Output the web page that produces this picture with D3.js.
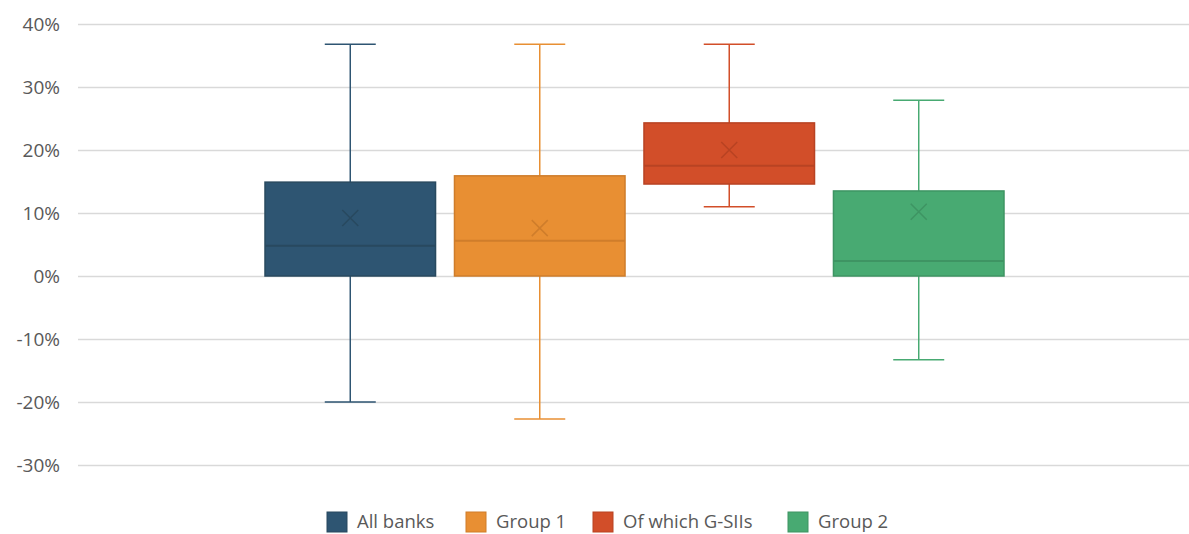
<!DOCTYPE html>
<html>
<head>
<meta charset="utf-8">
<script src="https://cdn.jsdelivr.net/npm/d3@7"></script>
<style>
  body { margin: 0; background: #fff; }
  svg { display: block; font-family: "Open Sans", sans-serif; }
</style>
</head>
<body>
<svg width="1189" height="534"></svg>
<script>
const series = ["All banks", "Group 1", "Of which G-SIIs", "Group 2"];
const colors = ["#2e5572", "#e88f33", "#d24e29", "#48aa72"];
const strokes = ["#28495f", "#cf7d2b", "#b84323", "#3e9463"];
const whiskerMin = [-0.20, -0.227, 0.110, -0.133];
const q1 = [0.0, 0.0, 0.146, 0.0];
const median = [0.048, 0.056, 0.175, 0.024];
const q3 = [0.149, 0.159, 0.243, 0.135];
const whiskerMax = [0.368, 0.368, 0.368, 0.279];
const mean = [0.092, 0.076, 0.200, 0.102];
const yTicks = [-0.3, -0.2, -0.1, 0, 0.1, 0.2, 0.3, 0.4];

const svg = d3.select("svg");
const width = +svg.attr("width");
const margin = { top: 24, right: 0, bottom: 69, left: 78 };
const plotBottom = 465;

const y = d3.scaleLinear().domain([-0.3, 0.4]).range([plotBottom, margin.top]);

// boxes sit in the middle of a single category
const x = d3.scaleBand()
  .domain(series)
  .range([265, 1004])
  .paddingInner(0.1);

const grid = svg.append("g");
grid.selectAll("line")
  .data(yTicks)
  .enter()
  .append("line")
  .attr("x1", margin.left)
  .attr("x2", width)
  .attr("y1", d => Math.round(y(d)) + 0.5)
  .attr("y2", d => Math.round(y(d)) + 0.5)
  .attr("stroke", "#d9d9d9")
  .attr("stroke-width", 1.5);

const pct = d => Math.round(d * 100) + "%";

svg.append("g")
  .selectAll("text")
  .data(yTicks)
  .enter()
  .append("text")
  .attr("x", 60)
  .attr("y", d => y(d))
  .attr("dy", "0.35em")
  .attr("text-anchor", "end")
  .attr("fill", "#595959")
  .attr("font-size", 19)
  .text(pct);

const data = series.map((s, i) => ({
  name: s, i,
  min: whiskerMin[i], q1: q1[i], med: median[i], q3: q3[i], max: whiskerMax[i], mean: mean[i]
}));

const bw = x.bandwidth();
const capW = 51;

const boxG = svg.append("g")
  .selectAll("g")
  .data(data)
  .enter()
  .append("g")
  .attr("transform", d => `translate(${x(d.name)},0)`);

// whiskers
boxG.append("line")
  .attr("x1", bw / 2).attr("x2", bw / 2)
  .attr("y1", d => y(d.max)).attr("y2", d => y(d.q3))
  .attr("stroke", d => colors[d.i]).attr("stroke-width", 1.5);
boxG.append("line")
  .attr("x1", bw / 2).attr("x2", bw / 2)
  .attr("y1", d => y(d.q1)).attr("y2", d => y(d.min))
  .attr("stroke", d => colors[d.i]).attr("stroke-width", 1.5);
boxG.append("line")
  .attr("x1", bw / 2 - capW / 2).attr("x2", bw / 2 + capW / 2)
  .attr("y1", d => y(d.max)).attr("y2", d => y(d.max))
  .attr("stroke", d => colors[d.i]).attr("stroke-width", 1.5);
boxG.append("line")
  .attr("x1", bw / 2 - capW / 2).attr("x2", bw / 2 + capW / 2)
  .attr("y1", d => y(d.min)).attr("y2", d => y(d.min))
  .attr("stroke", d => colors[d.i]).attr("stroke-width", 1.5);

// box
boxG.append("rect")
  .attr("x", 0)
  .attr("width", bw)
  .attr("y", d => y(d.q3))
  .attr("height", d => y(d.q1) - y(d.q3))
  .attr("fill", d => colors[d.i])
  .attr("stroke", d => strokes[d.i])
  .attr("stroke-width", 1.5);

// median
boxG.append("line")
  .attr("x1", 0).attr("x2", bw)
  .attr("y1", d => y(d.med)).attr("y2", d => y(d.med))
  .attr("stroke", d => strokes[d.i]).attr("stroke-width", 2);

// mean marker
const m = 8;
boxG.append("path")
  .attr("d", d => {
    const cx = bw / 2, cy = y(d.mean);
    return `M${cx - m},${cy - m}L${cx + m},${cy + m}M${cx - m},${cy + m}L${cx + m},${cy - m}`;
  })
  .attr("stroke", d => strokes[d.i])
  .attr("stroke-width", 1.5)
  .attr("fill", "none");

// legend
const legendX = [327, 466, 593, 788];
const legend = svg.append("g")
  .selectAll("g")
  .data(series)
  .enter()
  .append("g")
  .attr("transform", (d, i) => `translate(${legendX[i]},512)`);
legend.append("rect")
  .attr("width", 20).attr("height", 20)
  .attr("fill", (d, i) => colors[i])
  .attr("stroke", (d, i) => strokes[i]);
legend.append("text")
  .attr("x", 30)
  .attr("y", 10)
  .attr("dy", "0.33em")
  .attr("fill", "#595959")
  .attr("font-size", 18.5)
  .text(d => d);
</script>
</body>
</html>
